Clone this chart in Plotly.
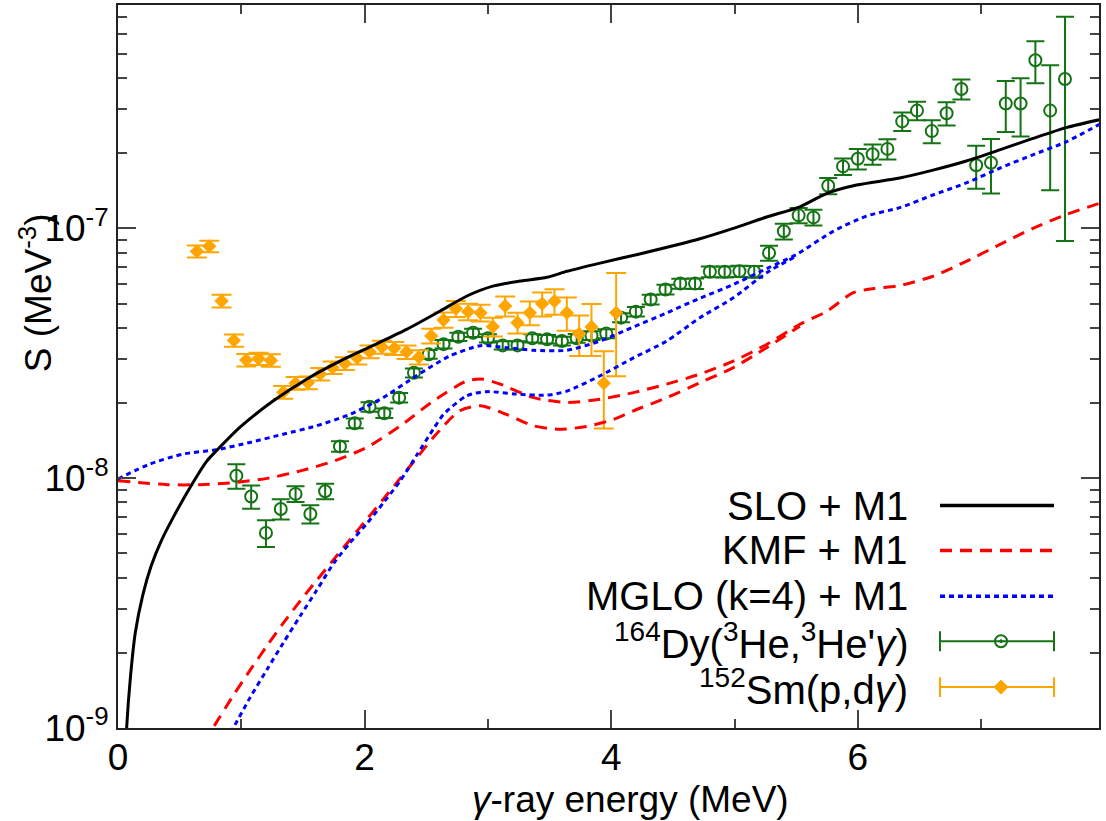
import plotly.graph_objects as go

# ---------------- data ----------------
# 164Dy(3He,3He'g) data
dy_E = [0.96, 1.08, 1.20, 1.32, 1.44, 1.56, 1.68, 1.80, 1.92, 2.04,
        2.16, 2.28, 2.40, 2.52, 2.64, 2.76, 2.88, 3.00, 3.12, 3.24,
        3.36, 3.48, 3.60, 3.72, 3.84, 3.96, 4.08, 4.20, 4.32, 4.44,
        4.56, 4.68, 4.80, 4.92, 5.04, 5.16, 5.28, 5.40, 5.52, 5.64,
        5.76, 5.88, 6.00, 6.12, 6.24, 6.36, 6.48, 6.60, 6.72, 6.84,
        6.96, 7.08, 7.20, 7.32, 7.44, 7.56, 7.68]
dy_S = [1.023e-8, 8.44e-9, 6.04e-9, 7.53e-9, 8.65e-9, 7.19e-9, 8.86e-9, 1.34e-8, 1.66e-8, 1.93e-8,
        1.82e-8, 2.10e-8, 2.64e-8, 3.13e-8, 3.44e-8, 3.68e-8, 3.82e-8, 3.63e-8, 3.40e-8, 3.40e-8,
        3.63e-8, 3.60e-8, 3.54e-8, 3.63e-8, 3.72e-8, 3.79e-8, 4.39e-8, 4.64e-8, 5.19e-8, 5.69e-8,
        6.01e-8, 6.01e-8, 6.70e-8, 6.70e-8, 6.73e-8, 6.70e-8, 7.97e-8, 9.73e-8, 1.127e-7, 1.106e-7,
        1.48e-7, 1.77e-7, 1.90e-7, 1.98e-7, 2.08e-7, 2.68e-7, 2.96e-7, 2.45e-7, 2.89e-7, 3.61e-7,
        1.79e-7, 1.83e-7, 3.16e-7, 3.16e-7, 4.71e-7, 2.96e-7, 3.96e-7]
dy_err = [1.15e-9, 0.9e-9, 0.74e-9, 0.7e-9, 0.63e-9, 0.6e-9, 0.63e-9, 0.65e-9, 0.75e-9, 0.85e-9,
          0.8e-9, 0.9e-9, 1.1e-9, 1.25e-9, 1.35e-9, 1.4e-9, 1.45e-9, 1.4e-9, 1.3e-9, 1.3e-9,
          1.4e-9, 1.4e-9, 1.4e-9, 1.45e-9, 1.5e-9, 1.55e-9, 1.8e-9, 2.0e-9, 2.3e-9, 2.6e-9,
          2.8e-9, 2.9e-9, 3.3e-9, 3.4e-9, 3.5e-9, 3.6e-9, 5.5e-9, 7.0e-9, 8.0e-9, 8.0e-9,
          1.1e-8, 1.35e-8, 1.8e-8, 1.85e-8, 1.95e-8, 2.3e-8, 2.5e-8, 2.6e-8, 3.1e-8, 3.3e-8,
          3.5e-8, 4.5e-8, 7.3e-8, 8.3e-8, 9.0e-8, 1.54e-7, 3.07e-7]

# 152Sm(p,dg) data
sm_E = [0.64, 0.74, 0.84, 0.94, 1.04, 1.14, 1.24, 1.34, 1.44, 1.54,
        1.64, 1.74, 1.84, 1.94, 2.04, 2.14, 2.24, 2.34, 2.44, 2.54,
        2.64, 2.74, 2.84, 2.94, 3.04, 3.14, 3.24, 3.34, 3.44, 3.54,
        3.64, 3.74, 3.84, 3.94, 4.04]
sm_S = [8.09e-8, 8.47e-8, 5.12e-8, 3.56e-8, 2.97e-8, 3.01e-8, 2.96e-8, 2.21e-8, 2.40e-8, 2.41e-8,
        2.61e-8, 2.77e-8, 2.88e-8, 3.03e-8, 3.21e-8, 3.35e-8, 3.31e-8, 3.20e-8, 3.05e-8, 3.71e-8,
        4.30e-8, 4.77e-8, 4.64e-8, 4.59e-8, 4.04e-8, 4.89e-8, 4.19e-8, 4.59e-8, 4.99e-8, 5.11e-8,
        4.59e-8, 3.78e-8, 4.03e-8, 2.40e-8, 4.59e-8]
sm_err = [0.45e-8, 0.45e-8, 0.30e-8, 0.20e-8, 0.17e-8, 0.17e-8, 0.17e-8, 0.13e-8, 0.14e-8, 0.14e-8,
          0.15e-8, 0.16e-8, 0.17e-8, 0.18e-8, 0.19e-8, 0.20e-8, 0.20e-8, 0.20e-8, 0.20e-8, 0.25e-8,
          0.30e-8, 0.35e-8, 0.35e-8, 0.35e-8, 0.35e-8, 0.45e-8, 0.40e-8, 0.50e-8, 0.55e-8, 0.60e-8,
          0.70e-8, 0.70e-8, 0.95e-8, 0.82e-8, 2.03e-8]

# SLO + M1
slo_E = [0.05, 0.07, 0.10, 0.14, 0.20, 0.27, 0.35, 0.45, 0.60, 0.72, 0.80,
         0.99, 1.26, 1.53, 1.80, 2.07, 2.34, 2.61, 2.83, 3.04, 3.26,
         3.48, 3.64, 3.91, 4.23, 4.72, 4.99, 5.26, 5.53, 5.75, 5.99,
         6.34, 6.61, 6.88, 7.15, 7.42, 7.69, 7.96]
slo_S = [5.6e-10, 1.0e-9, 1.58e-9, 2.40e-9, 3.39e-9, 4.47e-9, 5.6e-9, 7.0e-9, 9.45e-9, 1.17e-8, 1.29e-8,
         1.60e-8, 2.04e-8, 2.49e-8, 2.94e-8, 3.40e-8, 3.94e-8, 4.66e-8, 5.36e-8, 5.87e-8, 6.15e-8,
         6.37e-8, 6.73e-8, 7.26e-8, 7.90e-8, 9.09e-8, 1.0e-7, 1.11e-7, 1.22e-7, 1.38e-7, 1.49e-7,
         1.59e-7, 1.71e-7, 1.86e-7, 2.06e-7, 2.29e-7, 2.53e-7, 2.72e-7]

# KMF + M1 (two curves)
kmf1_E = [0.0, 0.40, 0.665, 0.935, 1.21, 1.48, 1.75, 2.02, 2.29, 2.56,
          2.83, 2.96, 3.10, 3.37, 3.64, 3.91, 4.18, 4.45, 4.72, 4.99,
          5.26, 5.53, 5.75, 5.96, 6.13, 6.34, 6.61, 6.88, 7.15, 7.42,
          7.69, 7.96]
kmf1_S = [9.77e-9, 9.42e-9, 9.42e-9, 9.60e-9, 9.98e-9, 1.07e-8, 1.17e-8, 1.33e-8, 1.62e-8, 2.04e-8,
          2.45e-8, 2.49e-8, 2.38e-8, 2.10e-8, 2.01e-8, 2.07e-8, 2.20e-8, 2.38e-8, 2.61e-8, 2.94e-8,
          3.43e-8, 4.13e-8, 4.66e-8, 5.52e-8, 5.74e-8, 5.90e-8, 6.43e-8, 7.38e-8, 8.61e-8, 1.0e-7,
          1.135e-7, 1.26e-7]
kmf2_E = [0.70, 0.77, 0.935, 1.07, 1.21, 1.34, 1.48, 1.61, 1.75, 1.88,
          2.02, 2.15, 2.29, 2.42, 2.56, 2.77, 2.94, 3.15, 3.37, 3.58,
          3.80, 4.02, 4.18, 4.45, 4.72, 4.99, 5.26, 5.53]
kmf2_S = [8.7e-10, 1.0e-9, 1.35e-9, 1.70e-9, 2.14e-9, 2.63e-9, 3.24e-9, 3.89e-9, 4.73e-9, 5.66e-9,
          6.87e-9, 8.22e-9, 1.0e-8, 1.20e-8, 1.46e-8, 1.86e-8, 1.95e-8, 1.80e-8, 1.62e-8, 1.57e-8,
          1.61e-8, 1.72e-8, 1.86e-8, 2.10e-8, 2.41e-8, 2.77e-8, 3.33e-8, 4.06e-8]

# MGLO (k=4) + M1 (two curves)
mglo1_E = [0.0, 0.26, 0.53, 0.80, 1.07, 1.34, 1.61, 1.88, 2.15, 2.42,
           2.69, 2.94, 3.15, 3.37, 3.64, 3.91, 4.18, 4.45, 4.72, 4.99,
           5.26, 5.50, 5.80, 6.07, 6.34, 6.61, 6.88, 7.15, 7.42, 7.69,
           7.96]
mglo1_S = [9.93e-9, 1.14e-8, 1.25e-8, 1.30e-8, 1.39e-8, 1.50e-8, 1.62e-8, 1.80e-8, 2.10e-8, 2.57e-8,
           3.08e-8, 3.39e-8, 3.33e-8, 3.25e-8, 3.25e-8, 3.54e-8, 4.03e-8, 4.59e-8, 5.25e-8, 5.96e-8,
           6.90e-8, 7.85e-8, 9.73e-8, 1.12e-7, 1.21e-7, 1.36e-7, 1.52e-7, 1.74e-7, 1.97e-7, 2.22e-7,
           2.61e-7]
mglo2_E = [0.88, 0.935, 1.07, 1.21, 1.34, 1.48, 1.61, 1.75, 1.88, 2.02,
           2.15, 2.29, 2.42, 2.56, 2.64, 2.83, 2.99, 3.23, 3.48, 3.64,
           3.91, 4.18, 4.45, 4.72, 4.99, 5.26, 5.50]
mglo2_S = [8.9e-10, 1.0e-9, 1.32e-9, 1.72e-9, 2.19e-9, 2.82e-9, 3.55e-9, 4.57e-9, 5.50e-9, 6.60e-9,
           7.94e-9, 9.77e-9, 1.23e-8, 1.58e-8, 1.80e-8, 2.14e-8, 2.22e-8, 2.17e-8, 2.15e-8, 2.23e-8,
           2.57e-8, 3.03e-8, 3.54e-8, 4.39e-8, 5.27e-8, 6.64e-8, 7.73e-8]

x_ticks = [0, 2, 4, 6]
x_minor = [1, 3, 5, 7]
y_ticks = [1e-9, 1e-8, 1e-7]
y_ticktext = ["10<sup>-9</sup>", "10<sup>-8</sup>", "10<sup>-7</sup>"]

legend_labels = ["SLO + M1", "KMF + M1", "MGLO (k=4) + M1",
                 "<sup>164</sup>Dy(<sup>3</sup>He,<sup>3</sup>He'<i>γ</i>)",
                 "<sup>152</sup>Sm(p,d<i>γ</i>)"]

GREEN = "#147314"
ORANGE = "#FFA500"
FONT = "Liberation Sans, Arial, Helvetica, sans-serif"

# ---------------- figure ----------------
W, H = 1106, 821
ML, MR, MT, MB = 118, 7, 3, 93
PW, PH = W - ML - MR, H - MT - MB


def px(x):
    return (x - ML) / PW


def py(y):
    return (H - MB - y) / PH


fig = go.Figure()

fig.add_trace(go.Scatter(
    x=dy_E, y=dy_S, mode="markers", showlegend=False,
    marker=dict(symbol="circle-open", size=12, color=GREEN, line=dict(width=2, color=GREEN)),
    error_y=dict(type="data", array=dy_err, visible=True, color=GREEN, thickness=2, width=9),
))
fig.add_trace(go.Scatter(
    x=sm_E, y=sm_S, mode="markers", showlegend=False,
    marker=dict(symbol="diamond", size=11, color=ORANGE),
    error_y=dict(type="data", array=sm_err, visible=True, color=ORANGE, thickness=2, width=10),
))

line_w = 3
sm = 0.7
fig.add_trace(go.Scatter(x=kmf1_E, y=kmf1_S, mode="lines", showlegend=False,
                         line=dict(color="#FF0000", width=line_w, dash="12px,8px", shape="spline", smoothing=sm)))
fig.add_trace(go.Scatter(x=kmf2_E, y=kmf2_S, mode="lines", showlegend=False,
                         line=dict(color="#FF0000", width=line_w, dash="12px,8px", shape="spline", smoothing=sm)))
fig.add_trace(go.Scatter(x=mglo1_E, y=mglo1_S, mode="lines", showlegend=False,
                         line=dict(color="#0000FF", width=line_w, dash="5px,4px", shape="spline", smoothing=sm)))
fig.add_trace(go.Scatter(x=mglo2_E, y=mglo2_S, mode="lines", showlegend=False,
                         line=dict(color="#0000FF", width=line_w, dash="5px,4px", shape="spline", smoothing=sm)))
fig.add_trace(go.Scatter(x=slo_E, y=slo_S, mode="lines", showlegend=False,
                         line=dict(color="black", width=line_w, shape="spline", smoothing=sm)))

# ---------------- custom gnuplot-style key ----------------
rows_y = [505, 550, 596, 641, 687]
text_x = 910
s_x0, s_x1, s_xm = 940, 1054, 1001
shapes = []
annotations = []
for lab, yy in zip(legend_labels, rows_y):
    annotations.append(dict(x=px(text_x), y=py(yy), xref="paper", yref="paper",
                            text=lab, showarrow=False, xanchor="right", yanchor="middle",
                            font=dict(size=40, color="black", family=FONT)))
shapes.append(dict(type="line", xref="paper", yref="paper", x0=px(s_x0), x1=px(s_x1),
                   y0=py(rows_y[0]), y1=py(rows_y[0]), line=dict(color="black", width=3.5)))
shapes.append(dict(type="line", xref="paper", yref="paper", x0=px(s_x0), x1=px(s_x1),
                   y0=py(rows_y[1]), y1=py(rows_y[1]), line=dict(color="#FF0000", width=3.5, dash="12px,8px")))
shapes.append(dict(type="line", xref="paper", yref="paper", x0=px(s_x0), x1=px(s_x1),
                   y0=py(rows_y[2]), y1=py(rows_y[2]), line=dict(color="#0000FF", width=3.5, dash="5px,4px")))
for col, yy in [(GREEN, rows_y[3]), (ORANGE, rows_y[4])]:
    shapes.append(dict(type="line", xref="paper", yref="paper", x0=px(s_x0), x1=px(s_x1),
                       y0=py(yy), y1=py(yy), line=dict(color=col, width=2)))
    for xx in (s_x0, s_x1):
        shapes.append(dict(type="line", xref="paper", yref="paper", x0=px(xx), x1=px(xx),
                           y0=py(yy - 10), y1=py(yy + 10), line=dict(color=col, width=2)))
r = 6
shapes.append(dict(type="circle", xref="paper", yref="paper",
                   x0=px(s_xm - r), x1=px(s_xm + r), y0=py(rows_y[3] + r), y1=py(rows_y[3] - r),
                   line=dict(color=GREEN, width=2), fillcolor="rgba(0,0,0,0)"))
shapes.append(dict(type="circle", xref="paper", yref="paper",
                   x0=px(s_xm - 1.5), x1=px(s_xm + 1.5), y0=py(rows_y[3] + 1.5), y1=py(rows_y[3] - 1.5),
                   line=dict(color=GREEN, width=1), fillcolor=GREEN))
d = 7
yy = rows_y[4]
shapes.append(dict(type="path", xref="paper", yref="paper",
                   path=f"M {px(s_xm - d)} {py(yy)} L {px(s_xm)} {py(yy - d)} L {px(s_xm + d)} {py(yy)} L {px(s_xm)} {py(yy + d)} Z",
                   line=dict(color=ORANGE, width=1), fillcolor=ORANGE))

# axis titles as annotations (gnuplot placement)
annotations.append(dict(x=px(630), y=py(800), xref="paper", yref="paper",
                        text="<i>γ</i>-ray energy (MeV)", showarrow=False,
                        xanchor="center", yanchor="middle",
                        font=dict(size=37, color="black", family=FONT)))
annotations.append(dict(x=px(36), y=py(292), xref="paper", yref="paper",
                        text="S (MeV<sup>-3</sup>)", showarrow=False, textangle=-90,
                        xanchor="center", yanchor="middle",
                        font=dict(size=37, color="black", family=FONT)))

y_minor = [m * 10.0 ** e for e in (-9, -8, -7) for m in range(2, 10) if m * 10.0 ** e < 8e-7]

axis_common = dict(showline=True, linecolor="#222", linewidth=2, mirror="ticks",
                   ticks="inside", tickcolor="#444", tickwidth=1.5, ticklen=18,
                   showgrid=False, zeroline=False,
                   tickfont=dict(size=37, color="black", family=FONT))

fig.update_layout(
    width=W, height=H,
    margin=dict(l=ML, r=MR, t=MT, b=MB),
    paper_bgcolor="white", plot_bgcolor="white",
    showlegend=False,
    shapes=shapes, annotations=annotations,
    xaxis=dict(range=[0, 7.956], tickmode="array", tickvals=x_ticks, ticklabelstandoff=-4,
               minor=dict(tickmode="array", tickvals=x_minor, ticks="inside", ticklen=9,
                          tickcolor="#444", tickwidth=1.5, showgrid=False),
               **axis_common),
    yaxis=dict(type="log", range=[-9, -6.106], tickmode="array", tickvals=y_ticks,
               ticktext=y_ticktext,
               minor=dict(tickmode="array", tickvals=y_minor, ticks="inside", ticklen=9,
                          tickcolor="#444", tickwidth=1.5, showgrid=False),
               **axis_common),
)

fig.write_html("out.html")
